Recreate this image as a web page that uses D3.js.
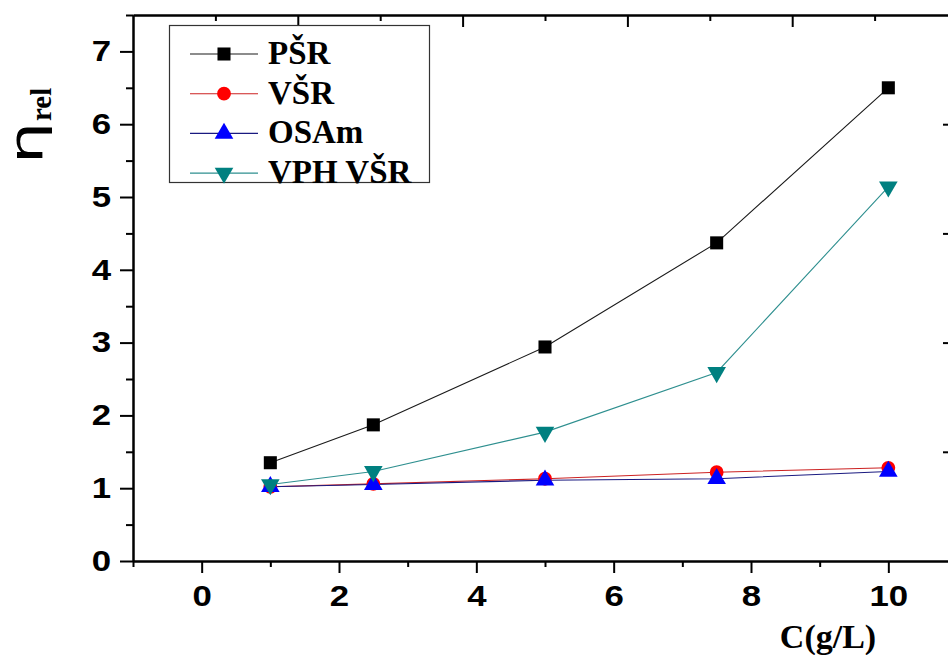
<!DOCTYPE html>
<html>
<head>
<meta charset="utf-8">
<script src="https://cdn.jsdelivr.net/npm/d3@7"></script>
<style>
  html, body { margin: 0; padding: 0; background: #fff; }
  svg { display: block; }
</style>
</head>
<body>
<svg id="chart" width="948" height="655"></svg>
<script>
// Concentrations (g/L)
const concentrations = [1, 2.5, 5, 7.5, 10];

// Relative viscosity for each sample
const psrValues = [1.35, 1.87, 2.94, 4.37, 6.50];
const vsrValues = [1.02, 1.06, 1.13, 1.22, 1.28];
const osamValues = [1.02, 1.05, 1.11, 1.13, 1.23];
const vphVsrValues = [1.05, 1.23, 1.77, 2.59, 5.14];

const seriesNames = ["PŠR", "VŠR", "OSAm", "VPH VŠR"];

// Axis ticks
const xTickValues = [0, 2, 4, 6, 8, 10];
const xMinorTicks = [-1, 1, 3, 5, 7, 9, 11];
const yTickValues = [0, 1, 2, 3, 4, 5, 6, 7];
const yMinorTicks = [0.5, 1.5, 2.5, 3.5, 4.5, 5.5, 6.5, 7.5];

const series = [
  { name: seriesNames[0], values: psrValues, line: "#1a1a1a", fill: "#000000", symbol: "square" },
  { name: seriesNames[1], values: vsrValues, line: "#cc2222", fill: "#ff0000", symbol: "circle" },
  { name: seriesNames[2], values: osamValues, line: "#1a1a80", fill: "#0000ff", symbol: "triangle" },
  { name: seriesNames[3], values: vphVsrValues, line: "#2e8f8f", fill: "#008080", symbol: "down" }
];

const svg = d3.select("#chart");
const plotLeft = 133, plotRight = 957, plotTop = 15, plotBottom = 561;

const x = d3.scaleLinear().domain([-1, 11]).range([plotLeft, plotRight]);
const y = d3.scaleLinear().domain([0, 7.5]).range([plotBottom, plotTop]);
// Secondary frame axes (ticks only)
const xTop = d3.scaleLinear().domain([0, 10]).range([plotLeft, plotRight]);
const yRight = d3.scaleLinear().domain([0, 5]).range([plotBottom, plotTop]);

const tickFont = "'Liberation Sans', Arial, sans-serif";
const serifFont = "'Liberation Serif', 'Times New Roman', serif";
const labelStretch = 1.2;

// Bottom axis
const gx = svg.append("g").attr("transform", `translate(0,${plotBottom})`);
gx.call(d3.axisBottom(x).tickValues(xTickValues).tickSize(12).tickSizeOuter(0).tickPadding(12).tickFormat(d3.format("d")));
gx.append("g").call(d3.axisBottom(x).tickValues(xMinorTicks).tickSize(6).tickSizeOuter(0).tickFormat(""));

// Left axis
const gy = svg.append("g").attr("transform", `translate(${plotLeft},0)`);
gy.call(d3.axisLeft(y).tickValues(yTickValues).tickSize(13).tickSizeOuter(0).tickPadding(9).tickFormat(d3.format("d")));
gy.append("g").call(d3.axisLeft(y).tickValues(yMinorTicks).tickSize(7).tickSizeOuter(0).tickFormat(""));

// Top axis, ticks pointing inward
const gt = svg.append("g").attr("transform", `translate(0,${plotTop})`);
gt.call(d3.axisBottom(xTop).tickValues([2, 4, 6, 8]).tickSize(12).tickSizeOuter(0).tickFormat(""));
gt.append("g").call(d3.axisBottom(xTop).tickValues([1, 3, 5, 7, 9]).tickSize(6).tickSizeOuter(0).tickFormat(""));

// Right axis, ticks pointing inward
const gr = svg.append("g").attr("transform", `translate(${plotRight},0)`);
gr.call(d3.axisLeft(yRight).tickValues([1, 2, 3, 4]).tickSize(14).tickSizeOuter(0).tickFormat(""));
gr.append("g").attr("class", "faint").call(d3.axisLeft(yRight).tickValues([0.5, 1.5, 2.5, 3.5, 4.5]).tickSize(7).tickSizeOuter(0).tickFormat(""));

svg.selectAll(".domain").attr("stroke", "#000").attr("stroke-width", 2);
svg.selectAll(".tick line").attr("stroke", "#000").attr("stroke-width", 2);
svg.selectAll(".faint .tick line").attr("stroke", "#e4e4e4");
svg.selectAll(".tick text")
  .attr("font-family", tickFont)
  .attr("font-weight", "bold")
  .attr("font-size", 29)
  .attr("fill", "#000")
  .attr("transform", `scale(${labelStretch},1)`);
gx.selectAll(".tick text").attr("dy", "0.71em");
gy.selectAll(".tick text").attr("x", -22 / labelStretch);

// Lines and markers
const line = d3.line().x((d, i) => x(concentrations[i])).y(d => y(d));

const symbolFor = {
  square: { type: d3.symbolSquare, size: 170, rot: 0 },
  circle: { type: d3.symbolCircle, size: 150, rot: 0 },
  triangle: { type: d3.symbolTriangle, size: 150, rot: 0 },
  down: { type: d3.symbolTriangle, size: 150, rot: 180 }
};

series.forEach(s => {
  svg.append("path")
    .attr("d", line(s.values))
    .attr("fill", "none")
    .attr("stroke", s.line)
    .attr("stroke-width", 1.1);
});

series.forEach(s => {
  const sym = symbolFor[s.symbol];
  svg.append("g").selectAll("path")
    .data(s.values)
    .join("path")
    .attr("d", d3.symbol().type(sym.type).size(sym.size))
    .attr("transform", (d, i) => `translate(${x(concentrations[i])},${y(d)}) rotate(${sym.rot})`)
    .attr("fill", s.fill);
});

// Legend
const legend = svg.append("g");
legend.append("rect")
  .attr("x", 169.5).attr("y", 25.5)
  .attr("width", 260).attr("height", 157)
  .attr("fill", "#fff")
  .attr("stroke", "#333").attr("stroke-width", 1.2);

series.forEach((s, i) => {
  const cy = 54 + i * 39.7;
  const sym = symbolFor[s.symbol];
  legend.append("line")
    .attr("x1", 190).attr("x2", 258)
    .attr("y1", cy).attr("y2", cy)
    .attr("stroke", s.line).attr("stroke-width", 1.1);
  legend.append("path")
    .attr("d", d3.symbol().type(sym.type).size(sym.size))
    .attr("transform", `translate(224,${cy}) rotate(${sym.rot})`)
    .attr("fill", s.fill);
  legend.append("text")
    .attr("x", 268).attr("y", cy + 10)
    .attr("font-family", serifFont)
    .attr("font-weight", "bold")
    .attr("font-size", 33)
    .attr("fill", "#000")
    .text(s.name);
});

// Y axis title: η with subscript "rel", rotated to read upward
svg.append("text")
  .attr("transform", "translate(42,164) rotate(-90) scale(1.45,1)")
  .attr("font-family", "'DejaVu Sans', Arial, sans-serif")
  .attr("font-size", 46)
  .attr("fill", "#000")
  .text("η");
svg.append("text")
  .attr("transform", "translate(51,121) rotate(-90)")
  .attr("font-family", serifFont)
  .attr("font-weight", "bold")
  .attr("font-size", 29)
  .attr("fill", "#000")
  .text("rel");

// X axis title
svg.append("text")
  .attr("x", 828).attr("y", 648)
  .attr("text-anchor", "middle")
  .attr("font-family", serifFont)
  .attr("font-weight", "bold")
  .attr("font-size", 34)
  .attr("fill", "#000")
  .text("C(g/L)");
</script>
</body>
</html>
